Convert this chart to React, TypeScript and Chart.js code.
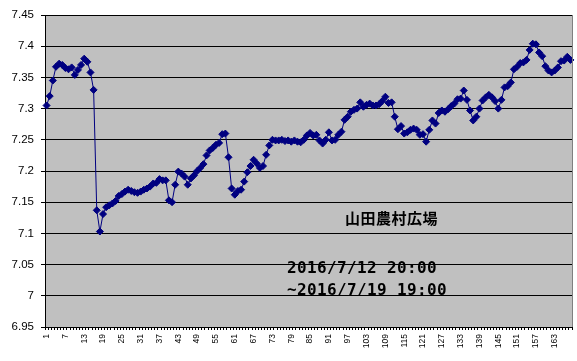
import React, { useEffect, useRef } from "react";
import { Chart, registerables } from "chart.js";

Chart.register(...registerables);

const categories: string[] = Array.from({ length: 168 }, (_, i) => String(i + 1));

const phValues: number[] = [
  7.305, 7.32, 7.345, 7.367, 7.372, 7.37, 7.365, 7.363, 7.366, 7.354,
  7.362, 7.37, 7.38, 7.375, 7.358, 7.33, 7.137, 7.103, 7.131, 7.142,
  7.145, 7.148, 7.152, 7.16, 7.163, 7.167, 7.17, 7.168, 7.166, 7.165,
  7.167, 7.17, 7.172, 7.175, 7.18, 7.181, 7.187, 7.185, 7.185, 7.153,
  7.15, 7.178, 7.199, 7.196, 7.191, 7.178, 7.188, 7.193, 7.2, 7.205,
  7.211, 7.225, 7.233, 7.237, 7.242, 7.245, 7.259, 7.26, 7.222, 7.172,
  7.162, 7.168, 7.17, 7.183, 7.198, 7.208, 7.218, 7.212, 7.205, 7.208,
  7.226, 7.241, 7.25, 7.249, 7.249, 7.25, 7.248, 7.249, 7.247, 7.249,
  7.247, 7.246, 7.25, 7.257, 7.261, 7.257, 7.258, 7.249, 7.244, 7.25,
  7.262, 7.249, 7.25, 7.258, 7.263, 7.282, 7.287, 7.295, 7.298, 7.3,
  7.31, 7.303, 7.306, 7.308, 7.305, 7.305, 7.307, 7.312, 7.319, 7.309,
  7.31, 7.287, 7.267, 7.272, 7.26, 7.262, 7.266, 7.268, 7.266, 7.258,
  7.259, 7.247, 7.266, 7.281, 7.276, 7.293, 7.297, 7.295, 7.299, 7.304,
  7.308, 7.315, 7.316, 7.329, 7.314, 7.297, 7.281, 7.287, 7.3, 7.313,
  7.318, 7.322, 7.318, 7.312, 7.3, 7.314, 7.334, 7.336, 7.342, 7.363,
  7.367, 7.373, 7.374, 7.378, 7.394, 7.404, 7.403, 7.39, 7.384, 7.368,
  7.361, 7.358, 7.361, 7.366, 7.376, 7.377, 7.383, 7.378,
];

const yMin = 6.95;
const yMax = 7.45;
const yStep = 0.05;
const labelEvery = 6;

const stationTitle = "山田農村広場";
const periodLines: string[] = ["2016/7/12 20:00", "~2016/7/19 19:00"];

const plotBg = {
  id: "plotBg",
  beforeDraw(chart: any) {
    const { ctx, chartArea } = chart;
    ctx.save();
    ctx.fillStyle = "#C0C0C0";
    ctx.fillRect(chartArea.left, chartArea.top, chartArea.right - chartArea.left, chartArea.bottom - chartArea.top);
    ctx.restore();
  },
  afterDraw(chart: any) {
    const { ctx, chartArea } = chart;
    ctx.save();
    ctx.strokeStyle = "#808080";
    ctx.lineWidth = 1;
    ctx.beginPath();
    ctx.moveTo(Math.round(chartArea.right) + 0.5, chartArea.top);
    ctx.lineTo(Math.round(chartArea.right) + 0.5, chartArea.bottom);
    ctx.stroke();
    ctx.restore();
  },
};

export default function App() {
  const ref = useRef<HTMLCanvasElement | null>(null);

  useEffect(() => {
    if (!ref.current) return;
    const chart = new Chart(ref.current, {
      type: "line",
      data: {
        labels: categories,
        datasets: [
          {
            data: phValues,
            borderColor: "#000080",
            backgroundColor: "#000080",
            borderWidth: 1,
            pointStyle: "rectRot",
            pointRadius: 3.5,
            pointBorderWidth: 1,
            pointBackgroundColor: "#000080",
            pointBorderColor: "#000080",
            tension: 0,
          },
        ],
      },
      options: {
        responsive: false,
        animation: false,
        layout: { padding: { top: 15, right: 5, left: 0, bottom: 0 } },
        plugins: { legend: { display: false }, tooltip: { enabled: false } },
        scales: {
          x: {
            type: "category",
            offset: true,
            afterFit: (s: any) => {
              s.height = 34;
              s.paddingLeft = 0;
              s.paddingRight = 0;
            },
            grid: {
              display: true,
              drawOnChartArea: false,
              drawTicks: true,
              tickLength: 3,
              color: "#000000",
              offset: true,
            },
            border: { display: true, color: "#000000", width: 1 },
            ticks: {
              autoSkip: false,
              minRotation: 90,
              maxRotation: 90,
              padding: 4,
              color: "#000000",
              font: { family: "Liberation Sans, Arial", size: 8.5 },
              callback: (_v: any, idx: number) => (idx % labelEvery === 0 ? categories[idx] : ""),
            },
          },
          y: {
            min: yMin,
            max: yMax,
            afterFit: (s: any) => {
              s.width = 45;
            },
            grid: {
              color: "#000000",
              lineWidth: 1,
              drawTicks: true,
              tickLength: 4,
            },
            border: { display: true, color: "#000000", width: 1 },
            ticks: {
              stepSize: yStep,
              padding: 7,
              color: "#000000",
              font: { family: "Liberation Sans, Arial", size: 11.5 },
              callback: (v: any) => String(Math.round(Number(v) * 100) / 100),
            },
          },
        },
      },
      plugins: [plotBg],
    });
    return () => chart.destroy();
  }, []);

  return (
    <div style={{ position: "fixed", left: 0, top: 0, width: 577, height: 361, background: "#FFFFFF" }}>
      <canvas ref={ref} width={577} height={361} style={{ width: 577, height: 361, display: "block" }} />
      <div
        style={{
          position: "absolute",
          left: 345,
          top: 210,
          fontFamily: "'Noto Sans CJK JP', sans-serif",
          fontWeight: 700,
          fontSize: 15,
          lineHeight: "15px",
          letterSpacing: "0.5px",
          color: "#000000",
          whiteSpace: "nowrap",
        }}
      >
        {stationTitle}
      </div>
      {periodLines.map((t, i) => (
        <div
          key={i}
          style={{
            position: "absolute",
            left: 287,
            top: 259.5 + i * 22,
            fontFamily: "'DejaVu Sans Mono', monospace",
            fontWeight: 700,
            fontSize: 16,
            lineHeight: "16px",
            letterSpacing: "0.37px",
            color: "#000000",
            whiteSpace: "nowrap",
          }}
        >
          {t}
        </div>
      ))}
    </div>
  );
}
